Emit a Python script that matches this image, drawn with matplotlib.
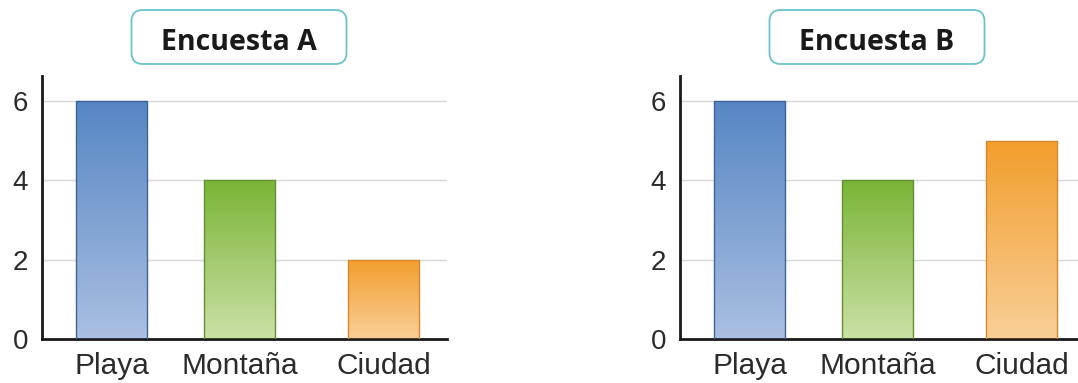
import matplotlib.pyplot as plt
import matplotlib.colors as mcolors
from matplotlib.patches import FancyBboxPatch
import numpy as np

categories = ["Playa", "Montaña", "Ciudad"]
encuesta_a = [6, 4, 2]
encuesta_b = [6, 4, 5]
titles = ["Encuesta A", "Encuesta B"]
y_ticks = [0, 2, 4, 6]

# layout (bar centres in axis units, uneven like the original)
x_pos = [0, 1, 2.125]
bar_width = 0.555
tops = ["#5686c4", "#7ab536", "#f29e2c"]
bottoms = ["#aabfe2", "#cbe0a6", "#f9cf98"]
edges = ["#3e6496", "#648e34", "#d4892c"]

W, H = 1078, 383
plt.rcParams["font.family"] = ["Liberation Sans", "DejaVu Sans"]

fig = plt.figure(figsize=(W / 100, H / 100), dpi=100)
ax_a = fig.add_axes([42 / W, 44 / H, 405 / W, 263 / H])
ax_b = fig.add_axes([680 / W, 44 / H, 405 / W, 263 / H])


def draw(ax, values, title, cx):
    bars = ax.bar(x_pos, values, width=bar_width, color="none", zorder=2)
    for bar, top, bot, edge in zip(bars, tops, bottoms, edges):
        cmap = mcolors.LinearSegmentedColormap.from_list("g", [bot, top])
        x0, y0 = bar.get_x(), bar.get_y()
        grad = np.linspace(0, 1, 256).reshape(-1, 1)
        im = ax.imshow(grad, cmap=cmap, origin="lower", aspect="auto",
                       extent=[x0, x0 + bar.get_width(), y0, y0 + bar.get_height()],
                       zorder=2)
        im.set_clip_path(bar)
        bar.set_edgecolor(edge)
        bar.set_linewidth(1.0)
        bar.set_zorder(3)
    ax.set_xlim(-0.543, 2.621)
    ax.set_ylim(0, 6.63)
    ax.set_yticks(y_ticks)
    ax.set_xticks(x_pos)
    ax.set_xticklabels(categories, fontsize=21.5, color="#2b2b2b")
    ax.tick_params(axis="y", length=0, pad=10, labelsize=20, labelcolor="#2b2b2b")
    ax.tick_params(axis="x", length=0, pad=9)
    for t in y_ticks[1:]:
        ax.axhline(t, color="#d6d6d6", linewidth=1, zorder=1)
    for s in ["top", "right"]:
        ax.spines[s].set_visible(False)
    for s in ["left", "bottom"]:
        ax.spines[s].set_linewidth(2)
        ax.spines[s].set_color("#1a1a1a")

    # rounded title box
    bw, bh = 215, 54
    box = FancyBboxPatch(((cx - bw / 2) / W, 1 - 64 / H), bw / W, bh / H,
                         boxstyle="round,pad=0,rounding_size=%f" % (11 / W),
                         transform=fig.transFigure, facecolor="white",
                         edgecolor="#6cc3cc", linewidth=1.3,
                         mutation_aspect=W / H)
    fig.patches.append(box)
    fig.text(cx / W, 1 - 42 / H, title, ha="center", va="center",
             fontsize=20.5, fontweight="bold", family=["Open Sans", "DejaVu Sans"],
             color="#1a1a1a")


draw(ax_a, encuesta_a, titles[0], 239)
draw(ax_b, encuesta_b, titles[1], 877)

fig.savefig("out.png", dpi=100)
